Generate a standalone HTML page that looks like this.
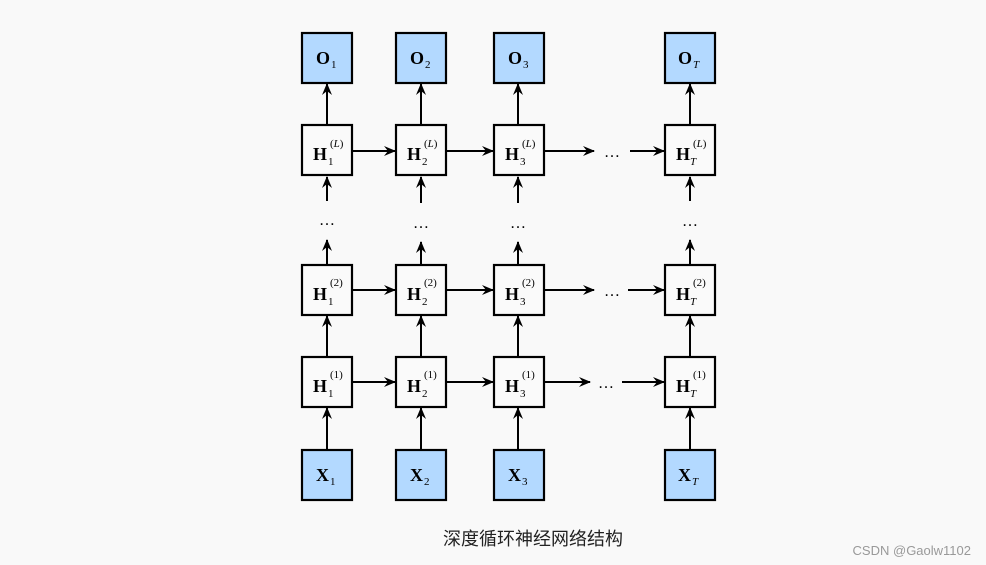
<!DOCTYPE html>
<html><head><meta charset="utf-8"><style>
html,body{margin:0;padding:0;background:#f9f9f9;}
svg{display:block}
.b{font-family:"Liberation Serif",serif;font-weight:bold;font-size:18px;fill:#000}
.s{font-family:"Liberation Serif",serif;font-size:11px;fill:#000}
.i{font-style:italic}
</style></head><body>
<svg width="986" height="565" viewBox="0 0 986 565" xmlns="http://www.w3.org/2000/svg">
<defs><marker id="a" markerWidth="12" markerHeight="10" refX="11" refY="5" orient="auto" markerUnits="userSpaceOnUse"><path d="M0,0 L12,5 L0,10 L4,5 z" fill="#000"/></marker></defs>
<rect width="986" height="565" fill="#f9f9f9"/>
<g stroke="#000" stroke-width="2" fill="none" marker-end="url(#a)">
<line x1="327" y1="125" x2="327" y2="84"/><line x1="421" y1="125" x2="421" y2="84"/><line x1="518" y1="125" x2="518" y2="84"/><line x1="690" y1="125" x2="690" y2="84"/>
<line x1="327" y1="201" x2="327" y2="177"/><line x1="421" y1="203" x2="421" y2="177"/><line x1="518" y1="203" x2="518" y2="177"/><line x1="690" y1="201" x2="690" y2="177"/>
<line x1="327" y1="265" x2="327" y2="240"/><line x1="421" y1="265" x2="421" y2="242"/><line x1="518" y1="265" x2="518" y2="242"/><line x1="690" y1="265" x2="690" y2="240"/>
<line x1="327" y1="357" x2="327" y2="316"/><line x1="421" y1="357" x2="421" y2="316"/><line x1="518" y1="357" x2="518" y2="316"/><line x1="690" y1="357" x2="690" y2="316"/>
<line x1="327" y1="450" x2="327" y2="408"/><line x1="421" y1="450" x2="421" y2="408"/><line x1="518" y1="450" x2="518" y2="408"/><line x1="690" y1="450" x2="690" y2="408"/>
<line x1="353" y1="151" x2="395" y2="151"/><line x1="447" y1="151" x2="493" y2="151"/><line x1="545" y1="151" x2="594" y2="151"/><line x1="630" y1="151" x2="664" y2="151"/>
<line x1="353" y1="290" x2="395" y2="290"/><line x1="447" y1="290" x2="493" y2="290"/><line x1="545" y1="290" x2="594" y2="290"/><line x1="628" y1="290" x2="664" y2="290"/>
<line x1="353" y1="382" x2="395" y2="382"/><line x1="447" y1="382" x2="493" y2="382"/><line x1="545" y1="382" x2="590" y2="382"/><line x1="622" y1="382" x2="664" y2="382"/>
</g>
<g stroke="#000" stroke-width="2.2">
<g fill="#b3d9ff">
<rect x="302" y="33" width="50" height="50"/><rect x="396" y="33" width="50" height="50"/><rect x="494" y="33" width="50" height="50"/><rect x="665" y="33" width="50" height="50"/>
<rect x="302" y="450" width="50" height="50"/><rect x="396" y="450" width="50" height="50"/><rect x="494" y="450" width="50" height="50"/><rect x="665" y="450" width="50" height="50"/>
</g>
<g fill="#fafafa">
<rect x="302" y="125" width="50" height="50"/><rect x="396" y="125" width="50" height="50"/><rect x="494" y="125" width="50" height="50"/><rect x="665" y="125" width="50" height="50"/>
<rect x="302" y="265" width="50" height="50"/><rect x="396" y="265" width="50" height="50"/><rect x="494" y="265" width="50" height="50"/><rect x="665" y="265" width="50" height="50"/>
<rect x="302" y="357" width="50" height="50"/><rect x="396" y="357" width="50" height="50"/><rect x="494" y="357" width="50" height="50"/><rect x="665" y="357" width="50" height="50"/>
</g></g>
<text class="b" x="316" y="64">O</text><text class="s" x="331" y="68">1</text>
<text class="b" x="410" y="64">O</text><text class="s" x="425" y="68">2</text>
<text class="b" x="508" y="64">O</text><text class="s" x="523" y="68">3</text>
<text class="b" x="678" y="64">O</text><text class="s i" x="693" y="68">T</text>
<text class="b" x="316" y="481">X</text><text class="s" x="330" y="485">1</text>
<text class="b" x="410" y="481">X</text><text class="s" x="424" y="485">2</text>
<text class="b" x="508" y="481">X</text><text class="s" x="522" y="485">3</text>
<text class="b" x="678" y="481">X</text><text class="s i" x="692" y="485">T</text>
<g>
<text class="b" x="313" y="160">H</text><text class="s" x="328" y="165">1</text><text class="s" x="330" y="147">(<tspan class="i">L</tspan>)</text>
<text class="b" x="407" y="160">H</text><text class="s" x="422" y="165">2</text><text class="s" x="424" y="147">(<tspan class="i">L</tspan>)</text>
<text class="b" x="505" y="160">H</text><text class="s" x="520" y="165">3</text><text class="s" x="522" y="147">(<tspan class="i">L</tspan>)</text>
<text class="b" x="676" y="160">H</text><text class="s i" x="690" y="165">T</text><text class="s" x="693" y="147">(<tspan class="i">L</tspan>)</text>
<text class="b" x="313" y="300">H</text><text class="s" x="328" y="305">1</text><text class="s" x="330" y="286">(2)</text>
<text class="b" x="407" y="300">H</text><text class="s" x="422" y="305">2</text><text class="s" x="424" y="286">(2)</text>
<text class="b" x="505" y="300">H</text><text class="s" x="520" y="305">3</text><text class="s" x="522" y="286">(2)</text>
<text class="b" x="676" y="300">H</text><text class="s i" x="690" y="305">T</text><text class="s" x="693" y="286">(2)</text>
<text class="b" x="313" y="392">H</text><text class="s" x="328" y="397">1</text><text class="s" x="330" y="378">(1)</text>
<text class="b" x="407" y="392">H</text><text class="s" x="422" y="397">2</text><text class="s" x="424" y="378">(1)</text>
<text class="b" x="505" y="392">H</text><text class="s" x="520" y="397">3</text><text class="s" x="522" y="378">(1)</text>
<text class="b" x="676" y="392">H</text><text class="s i" x="690" y="397">T</text><text class="s" x="693" y="378">(1)</text>
</g>
<g font-family="Liberation Serif,serif" font-size="16" text-anchor="middle" fill="#000">
<text x="327" y="225">…</text><text x="421" y="228">…</text><text x="518" y="228">…</text><text x="690" y="226">…</text>
<text x="612" y="157">…</text><text x="612" y="296">…</text><text x="606" y="388">…</text>
</g>
<text x="533" y="545" text-anchor="middle" font-family="Liberation Sans,'Noto Sans CJK SC',sans-serif" font-size="18" fill="#222">深度循环神经网络结构</text>
<text x="971" y="555" text-anchor="end" font-family="Liberation Sans,sans-serif" font-size="13" fill="#999">CSDN @Gaolw1102</text>
</svg>
</body></html>
